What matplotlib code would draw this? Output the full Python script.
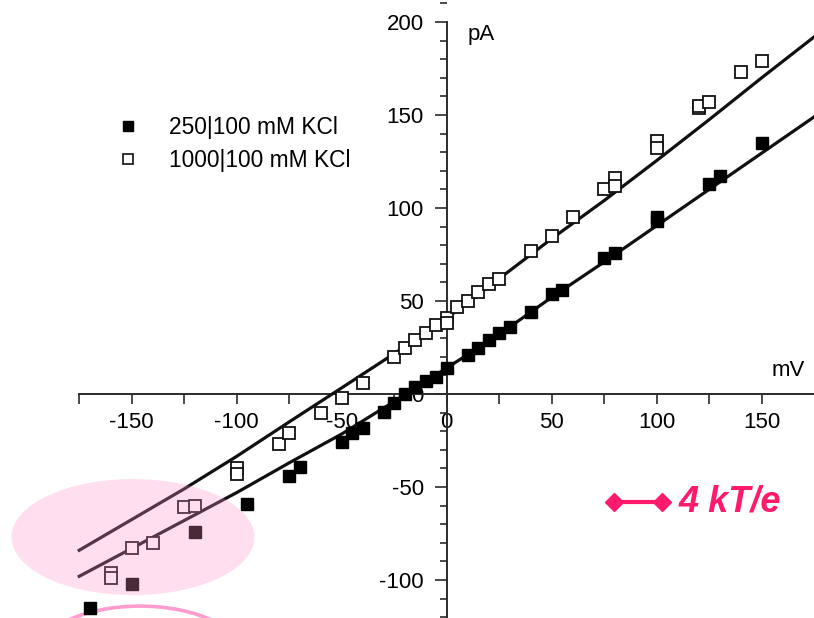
import matplotlib
matplotlib.use("Agg")
import matplotlib.pyplot as plt
from matplotlib import rcParams
from matplotlib.patches import Ellipse
from matplotlib.lines import Line2D
from matplotlib.ticker import MultipleLocator, FixedLocator

axisgrey = '#2b2b2b'
hot_pink = '#ff1a6e'

rcParams['font.family'] = ['Liberation Sans', 'DejaVu Sans']
rcParams['font.size'] = 16
rcParams['axes.unicode_minus'] = False
rcParams['axes.edgecolor'] = axisgrey
rcParams['axes.linewidth'] = 1.4
rcParams['xtick.color'] = axisgrey
rcParams['ytick.color'] = axisgrey
rcParams['xtick.labelcolor'] = 'black'
rcParams['ytick.labelcolor'] = 'black'
rcParams['xtick.labelsize'] = 16
rcParams['ytick.labelsize'] = 16

# measured I-V points, 250|100 mM KCl (filled)
v_250 = [-170, -150, -120, -95, -75, -70, -50, -45, -40, -30, -25, -20, -15, -10, -5, 0,
         10, 15, 20, 25, 30, 40, 50, 55, 75, 80, 100, 100, 125, 130, 150]
i_250 = [-115, -102, -74, -59, -44, -39, -26, -21, -18, -9.5, -5, 0, 4, 7, 9, 14,
         21, 25, 29, 33, 36, 44, 54, 56, 73, 76, 95, 93, 113, 117, 135]

# measured I-V points, 1000|100 mM KCl (open)
v_1000 = [-160, -160, -150, -140, -125, -120, -100, -100, -80, -75, -60, -50, -40, -25, -20,
          -15, -10, -5, 0, 0, 5, 10, 15, 20, 25, 40, 50, 60, 75, 80, 80, 100, 100, 120, 120,
          125, 140, 150]
i_1000 = [-96, -99, -83, -80, -61, -60, -40, -43, -27, -21, -10, -2, 6, 20, 25,
          29, 33, 37, 41, 38, 47, 50, 55, 59, 62, 77, 85, 95, 110, 116, 112, 136, 132, 153.5, 155,
          157, 173, 179]

# fitted curves
v_fit = [-175, -150, -125, -100, -75, -50, -25, 0, 25, 50, 75, 100, 125, 150, 175]
fit_250 = [-98, -83, -68, -53, -37, -21.5, -4, 14, 32, 52, 71, 90.5, 110, 129.5, 149]
fit_1000 = [-84, -67.5, -51, -33.5, -15, 3.3, 21.7, 40.7, 62, 83.5, 104, 125.5, 147.5, 170, 192]

fig = plt.figure(figsize=(8.14, 6.18), dpi=100)
ax = fig.add_axes([0, 0, 1, 1])
ax.set_xlim(-212.7, 174.9)
ax.set_ylim(-120.4, 211.8)
ax.patch.set_alpha(0)

# axes crossing at the origin
for s in ['top', 'right']:
    ax.spines[s].set_visible(False)
ax.spines['left'].set_position(('data', 0))
ax.spines['bottom'].set_position(('data', 0))
ax.spines['left'].set_bounds(-120.4, 200)
ax.spines['bottom'].set_bounds(-175, 175)

ax.set_xticks(range(-150, 151, 50))
ax.xaxis.set_minor_locator(FixedLocator(range(-175, 176, 50)))
ax.set_yticks(range(-100, 201, 50))
ax.yaxis.set_minor_locator(MultipleLocator(10))
ax.tick_params(axis='x', which='both', direction='out', length=7, width=1.2, pad=6)
ax.tick_params(axis='y', which='major', direction='out', length=8.5, width=1.2, pad=8)
ax.tick_params(axis='y', which='minor', direction='out', length=5, width=1.2)

ax.plot(v_fit, fit_1000, color='#111111', lw=2.3, zorder=3)
ax.plot(v_fit, fit_250, color='#111111', lw=2.3, zorder=3)
ax.plot(v_250, i_250, ls='none', marker='s', ms=8.6, mfc='black', mec='black', zorder=4)
ax.plot(v_1000, i_1000, ls='none', marker='s', ms=8.2, mfc='white', mec='#111111',
        mew=1.3, zorder=4)

ax.text(10.1, 193.5, 'pA', ha='left', va='center', fontsize=16)
ax.text(170.5, 12.9, 'mV', ha='right', va='center', fontsize=16)

# highlighted region at strongly negative voltages
ax.add_patch(Ellipse((-149.4, -76.9), 115.7, 62.4, facecolor='#ff91c8', alpha=0.29,
                     lw=0, zorder=6))
ax.add_patch(Ellipse((-146, -142), 100, 56, fill=False, edgecolor='#ff9ccf', lw=2.6,
                     zorder=2))

# scale bar for 4 kT/e
ax.plot([79.8, 102.4], [-57.9, -57.9], color=hot_pink, lw=3, marker='D', ms=9,
        mec=hot_pink, mfc=hot_pink, zorder=5)
ax.text(110.3, -58, '4 kT/e', color=hot_pink, fontsize=26, fontweight='bold',
        fontstyle='italic', ha='left', va='center')

handles = [Line2D([], [], ls='none', marker='s', ms=7.5, mfc='black', mec='black'),
           Line2D([], [], ls='none', marker='s', ms=7.5, mfc='white', mec='#111111', mew=1.2)]
fig.legend(handles, ['250|100 mM KCl', '1000|100 mM KCl'], loc='upper left',
           bbox_to_anchor=(121 / 814, 1 - 116 / 618), frameon=False, borderpad=0,
           borderaxespad=0, handlelength=0.6, handletextpad=1.5, labelspacing=0.45,
           fontsize=16.4)

fig.savefig('out.png', dpi=100)
